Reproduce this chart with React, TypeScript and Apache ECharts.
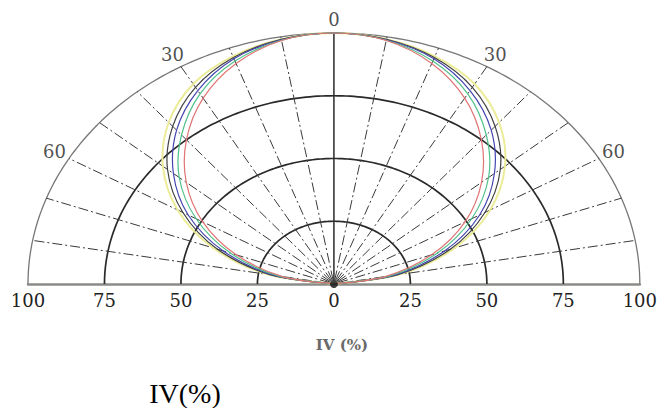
import React, { useEffect, useRef } from "react";
import * as echarts from "echarts";

// Angle steps (degrees from the vertical axis), mirrored on both sides
const ANGLES = [0, 10, 20, 30, 40, 50, 60, 70, 80, 90];

// Relative intensity IV(%) per curve at each angle
const YELLOW = [100, 99, 96.5, 92, 84, 73, 59, 42, 22, 0];
const BLACK = [100, 99, 96, 90.5, 82, 71, 57, 40.5, 21, 0];
const BLUE = [100, 98.8, 95.5, 89, 80, 68.5, 55, 38.5, 20, 0];
const GREEN = [100, 98.6, 94.5, 87.5, 77.5, 66, 52, 36, 18.5, 0];
const RED = [100, 98.5, 93.5, 85.5, 75, 63, 49.5, 34, 17, 0];

const CURVES = [
  { name: "yellow", values: YELLOW, color: "#ecec98", width: 2 },
  { name: "black", values: BLACK, color: "#404040", width: 1.2 },
  { name: "blue", values: BLUE, color: "#4444b0", width: 1.2 },
  { name: "green", values: GREEN, color: "#4fc08a", width: 1.2 },
  { name: "red", values: RED, color: "#e07474", width: 1.2 },
];

// Grid geometry
const RINGS = [25, 50, 75, 100];
const RADIAL_ANGLES = [-80, -70, -60, -50, -40, -30, -20, -10, 0, 10, 20, 30, 40, 50, 60, 70, 80];
const ANGLE_LABELS = [-60, -30, 0, 30, 60];
const LABEL_RADIUS = 105.5;

const toRad = (d: number) => (d * Math.PI) / 180;
const polarXY = (deg: number, r: number) => [r * Math.sin(toRad(deg)), r * Math.cos(toRad(deg))];

function curveData(values: number[]) {
  const pts: number[][] = [];
  for (let i = ANGLES.length - 1; i >= 0; i--) pts.push(polarXY(-ANGLES[i], values[i]));
  for (let i = 1; i < ANGLES.length; i++) pts.push(polarXY(ANGLES[i], values[i]));
  return pts;
}

// Catmull-Rom spline through pixel points -> SVG path
function splinePath(p: number[][]) {
  let d = `M${p[0][0]},${p[0][1]}`;
  for (let i = 0; i < p.length - 1; i++) {
    const p0 = p[Math.max(0, i - 1)];
    const p1 = p[i];
    const p2 = p[i + 1];
    const p3 = p[Math.min(p.length - 1, i + 2)];
    const c1x = p1[0] + (p2[0] - p0[0]) / 6;
    const c1y = p1[1] + (p2[1] - p0[1]) / 6;
    const c2x = p2[0] - (p3[0] - p1[0]) / 6;
    const c2y = p2[1] - (p3[1] - p1[1]) / 6;
    d += ` C${c1x},${c1y} ${c2x},${c2y} ${p2[0]},${p2[1]}`;
  }
  return d;
}

export default function App() {
  const ref = useRef<HTMLDivElement>(null);
  useEffect(() => {
    if (!ref.current) return;
    const chart = echarts.init(ref.current, null, { renderer: "svg" });
    const serifFont = "'DejaVu Serif', serif";
    const option: any = {
      animation: false,
      backgroundColor: "#ffffff",
      grid: { left: 28, right: 20, top: 33, bottom: 124, containLabel: false },
      xAxis: {
        type: "value",
        min: -100,
        max: 100,
        interval: 25,
        axisLine: { show: true, onZero: false, lineStyle: { color: "#8a8c88", width: 2.5 } },
        axisTick: { show: false },
        splitLine: { show: false },
        axisLabel: {
          margin: 7,
          color: "#222",
          fontSize: 18,
          fontFamily: serifFont,
          formatter: (v: number) => String(Math.abs(v)),
        },
      },
      yAxis: { type: "value", min: 0, max: 100, show: false },
      graphic: [
        {
          type: "text",
          x: 342,
          y: 345,
          style: {
            text: "IV (%)",
            font: "bold 15px 'DejaVu Serif', serif",
            fill: "#6a6a6a",
            textAlign: "center",
            textVerticalAlign: "middle",
          },
        },
        {
          type: "text",
          x: 185,
          y: 393,
          style: {
            text: "IV(%)",
            font: "28px 'Liberation Serif', 'Times New Roman', serif",
            fill: "#000",
            textAlign: "center",
            textVerticalAlign: "middle",
          },
        },
      ],
      series: [
        {
          type: "custom",
          name: "rings",
          coordinateSystem: "cartesian2d",
          clip: false,
          silent: true,
          z: 1,
          data: RINGS.map((r) => [r, 0]),
          renderItem: (params: any, api: any) => {
            const r = api.value(0);
            const pts: number[][] = [];
            for (let d = -90; d <= 90; d += 1) pts.push(api.coord(polarXY(d, r)));
            const outer = r === 100;
            return {
              type: "polyline",
              shape: { points: pts },
              style: { stroke: outer ? "#777" : "#2a2a2a", lineWidth: outer ? 1.3 : 1.7, fill: null },
            };
          },
        },
        {
          type: "custom",
          name: "radials",
          coordinateSystem: "cartesian2d",
          clip: false,
          silent: true,
          z: 1,
          data: RADIAL_ANGLES.map((a) => [a, 0]),
          renderItem: (params: any, api: any) => {
            const a = api.value(0);
            const p0 = api.coord(polarXY(a, 1.5));
            const p1 = api.coord(polarXY(a, 100));
            const solid = a === 0;
            return {
              type: "line",
              shape: { x1: p0[0], y1: p0[1], x2: p1[0], y2: p1[1] },
              style: {
                stroke: solid ? "#2a2a2a" : "#3a3a3a",
                lineWidth: solid ? 1.5 : 1,
                lineDash: solid ? null : [10, 3, 2, 3],
              },
            };
          },
        },
        ...CURVES.map((c) => {
          const data = curveData(c.values);
          return {
            type: "custom",
            name: c.name,
            coordinateSystem: "cartesian2d",
            clip: false,
            silent: true,
            z: 3,
            data,
            renderItem: (params: any, api: any) => {
              if (params.dataIndex !== 0) return { type: "group", children: [] };
              const pts = data.map((p) => api.coord(p));
              return {
                type: "path",
                shape: { pathData: splinePath(pts) },
                style: { stroke: c.color, lineWidth: c.width, fill: null },
              };
            },
          };
        }),
        {
          type: "scatter",
          name: "center",
          data: [[0, 0]],
          symbolSize: 8,
          clip: false,
          z: 4,
          itemStyle: { color: "#111" },
        },
        {
          type: "scatter",
          name: "angleLabels",
          data: ANGLE_LABELS.map((a) => [...polarXY(a, LABEL_RADIUS), a]),
          symbolSize: 1,
          clip: false,
          z: 4,
          itemStyle: { color: "rgba(0,0,0,0)" },
          label: {
            show: true,
            position: "inside",
            color: "#222",
            fontSize: 18,
            fontFamily: serifFont,
            formatter: (p: any) => String(Math.abs(p.value[2])),
          },
        },
      ],
    };
    chart.setOption(option);
    return () => chart.dispose();
  }, []);
  return (
    <div
      ref={ref}
      style={{ position: "fixed", left: 0, top: 0, width: 660, height: 408, background: "#fff" }}
    />
  );
}
